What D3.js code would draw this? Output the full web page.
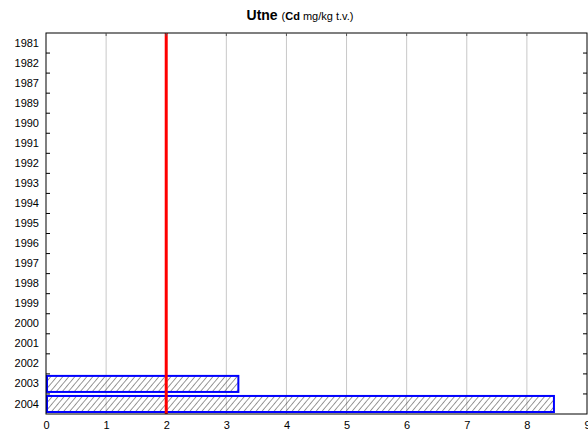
<!DOCTYPE html>
<html>
<head>
<meta charset="utf-8">
<script src="https://cdn.jsdelivr.net/npm/d3@7/dist/d3.min.js"></script>
<style>
  body { margin: 0; background: #fff; }
  svg { display: block; font-family: "Liberation Sans", Arial, sans-serif; }
</style>
</head>
<body>
<svg id="chart" width="588" height="434"></svg>
<script>
// Sampling years (rows, top to bottom)
const years = ["1981","1982","1987","1989","1990","1991","1992","1993","1994","1995",
               "1996","1997","1998","1999","2000","2001","2002","2003","2004"];
// Cd concentration (mg/kg t.v.), null where no measurement
const cdValues = [null,null,null,null,null,null,null,null,null,null,
                  null,null,null,null,null,null,null,3.2,8.45];
// Reference limit drawn as a red line
const limitValue = 2;
const xTicks = [0,1,2,3,4,5,6,7,8,9];

const margin = { top: 33, right: 1, bottom: 20, left: 46 };
const W = 588, H = 434;
const svg = d3.select("#chart");

const x = d3.scaleLinear().domain([0, 9]).range([margin.left, W - margin.right]);
const y = d3.scaleBand().domain(years).range([margin.top, H - margin.bottom]).paddingInner(0.2).paddingOuter(0.1);
const yb = d3.scaleBand().domain(years).range([margin.top, H - margin.bottom]);

// Hatch pattern for bars
const defs = svg.append("defs");
const pat = defs.append("pattern")
  .attr("id", "hatch").attr("patternUnits", "userSpaceOnUse")
  .attr("width", 4.6).attr("height", 10)
  .attr("patternTransform", "rotate(40)");
pat.append("line").attr("x1", 0).attr("y1", 0).attr("x2", 0).attr("y2", 10)
  .attr("stroke", "#333").attr("stroke-width", 1);

// Vertical grid lines
svg.append("g").selectAll("line").data(xTicks.slice(1, -1)).join("line")
  .attr("x1", d => x(d)).attr("x2", d => x(d))
  .attr("y1", margin.top).attr("y2", H - margin.bottom)
  .attr("stroke", "#c8c8c8").attr("stroke-width", 1);

// Bars
const bars = years.map((yr, i) => ({ yr, v: cdValues[i] })).filter(d => d.v != null);
svg.append("g").selectAll("rect").data(bars).join("rect")
  .attr("x", x(0) + 1)
  .attr("y", d => y(d.yr))
  .attr("width", d => x(d.v) - x(0) - 1)
  .attr("height", y.bandwidth())
  .attr("fill", "url(#hatch)")
  .attr("stroke", "#0000ff").attr("stroke-width", 2);

// Limit line
svg.append("line")
  .attr("x1", x(limitValue)).attr("x2", x(limitValue))
  .attr("y1", margin.top).attr("y2", H - margin.bottom)
  .attr("stroke", "#ff0000").attr("stroke-width", 3);

// Frame
svg.append("rect")
  .attr("x", margin.left).attr("y", margin.top)
  .attr("width", W - margin.right - margin.left)
  .attr("height", H - margin.bottom - margin.top)
  .attr("fill", "none").attr("stroke", "#000").attr("stroke-width", 1);

// Axes
const bottomAxis = d3.axisBottom(x).tickValues(xTicks).tickSize(0).tickPadding(7);
const gx = svg.append("g").attr("transform", `translate(0,${H - margin.bottom})`).call(bottomAxis);
gx.select(".domain").remove();
gx.selectAll("text").attr("font-size", 11).attr("fill", "#000")
  .attr("font-family", "Liberation Sans, Arial, sans-serif");

const leftAxis = d3.axisLeft(yb).tickSize(0).tickPadding(7);
const gy = svg.append("g").attr("transform", `translate(${margin.left},0)`).call(leftAxis);
gy.select(".domain").remove();
gy.selectAll("text").attr("font-size", 11).attr("fill", "#000")
  .attr("font-family", "Liberation Sans, Arial, sans-serif");

// Inward tick marks at row boundaries (left and right) and at top ticks
const bounds = years.slice(1).map(d => yb(d));
svg.append("g").selectAll("line").data(bounds).join("line")
  .attr("x1", margin.left).attr("x2", margin.left + 4)
  .attr("y1", d => d).attr("y2", d => d).attr("stroke", "#000");
svg.append("g").selectAll("line").data(bounds).join("line")
  .attr("x1", W - margin.right).attr("x2", W - margin.right - 4)
  .attr("y1", d => d).attr("y2", d => d).attr("stroke", "#000");
svg.append("g").selectAll("line").data(xTicks.slice(1, -1)).join("line")
  .attr("x1", d => x(d)).attr("x2", d => x(d))
  .attr("y1", margin.top).attr("y2", margin.top + 3).attr("stroke", "#555");

// Title
const title = svg.append("text").attr("x", 300).attr("y", 20).attr("text-anchor", "middle");
title.append("tspan").attr("font-weight", "bold").attr("font-size", 14).text("Utne ");
title.append("tspan").attr("font-size", 11).text("(");
title.append("tspan").attr("font-size", 11).attr("font-weight", "bold").text("Cd");
title.append("tspan").attr("font-size", 11).text(" mg/kg t.v.)");
</script>
</body>
</html>
